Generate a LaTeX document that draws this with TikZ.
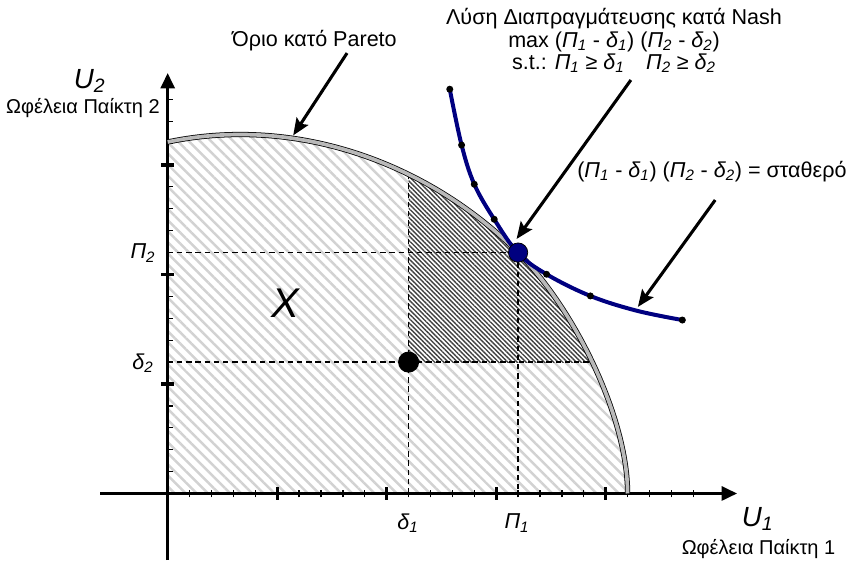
\documentclass[tikz,border=0pt]{standalone}
\usepackage{fontspec}
\setmainfont{Liberation Sans}
\usetikzlibrary{arrows.meta, patterns.meta, positioning}

\definecolor{nashblue}{RGB}{0,0,128}

\newcommand{\payA}{\textit{Π\textsubscript{1}}}
\newcommand{\payB}{\textit{Π\textsubscript{2}}}
\newcommand{\thrA}{\textit{δ\textsubscript{1}}}
\newcommand{\thrB}{\textit{δ\textsubscript{2}}}

\tikzset{
    axis/.style={line width=2pt, -{Triangle[length=10pt, width=9pt]}},
    ticksmall/.style={line width=0.8pt},
    tickbig/.style={line width=2pt},
    guide/.style={line width=0.9pt, dash pattern=on 3.5pt off 2.5pt},
    pointer/.style={line width=2pt, -{Stealth[length=11pt, width=9pt, inset=2pt]}},
    frontier/.style={draw=black, line width=0.5pt, double=gray!55, double distance=2.4pt},
    frontierrest/.style={insert path={.. controls (6,17.3) and (12,15) .. (16,11) .. controls (18.55,8.45) and (21,3.5) .. (21,0)}},
    lighthatch/.style={pattern={Lines[angle=-45, distance=5.1pt, line width=1.6pt]}, pattern color=gray!35},
    darkhatch/.style={pattern={Lines[angle=-45, distance=2.1pt, line width=0.9pt]}, pattern color=black!75},
    nashcurve/.style={draw=nashblue, line width=2.6pt},
    curvedot/.style={circle, fill=black, inner sep=0pt, minimum size=0.16cm},
    nashpt/.style={circle, draw=black, line width=0.5pt, fill=nashblue, inner sep=0pt, minimum size=0.44cm},
    threatpt/.style={circle, fill=black, inner sep=0pt, minimum size=0.48cm},
    txt/.style={font=\fontsize{14}{14.5}\selectfont, inner sep=0pt},
    axtxt/.style={font=\fontsize{13}{14}\selectfont, inner sep=0pt},
    axlabel/.style={font=\fontsize{14}{15}\selectfont, inner sep=0pt},
    biglabel/.style={font=\fontsize{18}{20}\selectfont\itshape, inner sep=0pt},
}

\begin{document}
\begin{tikzpicture}[x=0.5cm, y=0.5cm]
    \useasboundingbox (-7.657,-3.174) rectangle (30.973,22.534);

    % feasible set and the part above the threat point
    \fill[lighthatch] (0,0) -- (0,16.05) [frontierrest] -- cycle;
    \begin{scope}
        \clip (11,6) rectangle (25,20);
        \fill[white] (0,0) -- (0,16.05) [frontierrest] -- cycle;
        \fill[darkhatch] (0,0) -- (0,16.05) [frontierrest] -- cycle;
    \end{scope}

    % guide lines
    \draw[guide] (0,11) -- (16,11) -- (16,0);
    \draw[guide] (0,6) -- (19.39,6);
    \draw[guide] (11,0) -- (11,14.57);

    % axes
    \coordinate (O) at (0,0);
    \coordinate (xstart) at (-3.09,0);
    \coordinate (xend) at (26,0);
    \coordinate (ystart) at (0,-3.04);
    \coordinate (yend) at (0,19.2);
    \draw[axis] (xstart) -- (xend);
    \draw[axis] (ystart) -- (yend);
    \foreach \i in {1,...,24} \draw[ticksmall] (\i,-0.18) -- (\i,0.18);
    \foreach \i in {5,10,15,20} \draw[tickbig] (\i,-0.28) -- (\i,0.28);
    \foreach \j in {1,...,18} \draw[ticksmall] (0,\j) -- (0.24,\j);
    \foreach \j in {5,10,15} \draw[tickbig] (-0.3,\j) -- (0.3,\j);

    % Pareto frontier
    \draw[frontier] (0,16.05) [frontierrest];

    % level curve
    \draw[nashcurve] plot[smooth, tension=0.6] coordinates {(12.88,18.46) (13.42,15.91) (14,14.12) (14.91,12.52) (16,10.98) (17.3,10.01) (19.3,9.02) (21.4,8.35) (23.5,7.92)};
    \foreach \pt [count=\k] in {(12.88,18.46), (13.42,15.91), (14,14.12), (14.91,12.52), (17.3,10.01), (19.3,9.02), (23.5,7.92)}
        \node[curvedot] (cd\k) at \pt {};

    \node[nashpt]   (nash)   at (16,11) {};
    \node[threatpt] (threat) at (11,6)  {};

    % labels
    \node[biglabel, anchor=base west] (uy) at (-4.3,18.5) {U\textsubscript{2}};
    \node[axtxt, anchor=base east] (uytext) at (-0.35,17.37) {Ωφέλεια Παίκτη 2};
    \node[biglabel, anchor=base west] (ux) at (26.2,-1.5) {U\textsubscript{1}};
    \node[axtxt, anchor=base west] (uxtext) at (23.46,-2.8) {Ωφέλεια Παίκτη 1};
    \node[axlabel] (la) at (10.97,-1.35) {\thrA};
    \node[axlabel] (lb) at (15.95,-1.35) {\payA};
    \node[axlabel] (lc) at (-1.13,10.98) {\payB};
    \node[axlabel] (ld) at (-1.13,5.96)  {\thrB};
    \node[font=\fontsize{27}{30}\selectfont\itshape] (setX) at (5.36,8.7) {X};

    \node[txt] (pareto) at (6.70,20.68) {Όριο κατό Pareto};
    \node[txt, align=center] (nashtext) at (20.38,20.68) {Λύση Διαπραγμάτευσης κατά Nash\\
        max (\payA{} - \thrA) (\payB{} - \thrB)\\
        s.t.: \payA{} ≥ \thrA\quad \payB{} ≥ \thrB};
    \node[txt, anchor=west] (level) at (18.69,14.69) {(\payA{} - \thrA) (\payB{} - \thrB) = σταθερό};

    % pointers
    \coordinate (paretotail) at (8.19,20.11);
    \coordinate (paretotip)  at (5.73,16.35);
    \coordinate (nashtail)   at (21.15,18.88);
    \coordinate (nashtip)    at (15.93,11.62);
    \coordinate (leveltail)  at (25.0,13.4);
    \coordinate (leveltip)   at (21.47,8.52);
    \draw[pointer] (paretotail) -- (paretotip);
    \draw[pointer] (nashtail) -- (nashtip);
    \draw[pointer] (leveltail) -- (leveltip);
\end{tikzpicture}
\end{document}
